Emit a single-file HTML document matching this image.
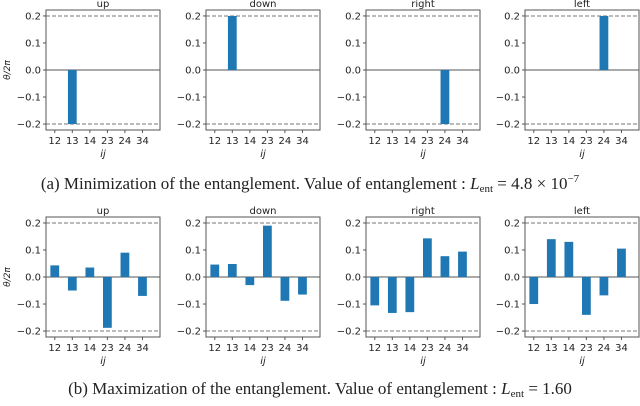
<!DOCTYPE html>
<html><head><meta charset="utf-8"><style>
body{margin:0;background:#fff;width:640px;height:401px;overflow:hidden}
svg text{font-family:"DejaVu Sans","Liberation Sans",sans-serif}
.cap{font-family:"Liberation Serif",serif;font-size:17px;fill:#222}
</style></head><body>
<svg id="fig" width="640" height="401" viewBox="0 0 640 401" xmlns="http://www.w3.org/2000/svg">
<text class="cap" x="310" y="189" text-anchor="middle">(a) Minimization of the entanglement. Value of entanglement : <tspan font-style="italic">L</tspan><tspan font-size="11" dy="3">ent</tspan><tspan dy="-3"> = 4.8 × 10</tspan><tspan font-size="11" dy="-7">−7</tspan></text>
<text class="cap" x="320" y="394" text-anchor="middle">(b) Maximization of the entanglement. Value of entanglement : <tspan font-style="italic">L</tspan><tspan font-size="11" dy="3">ent</tspan><tspan dy="-3"> = 1.60</tspan></text>
</svg>
<script>
const categories=["12","13","14","23","24","34"];
const titles=["up","down","right","left"];
const yTicks=[0.2,0.1,0.0,-0.1,-0.2];
const yTickLabels=["0.2","0.1","0.0","−0.1","−0.2"];
const minUp=[0,-0.2,0,0,0,0];
const minDown=[0,0.2,0,0,0,0];
const minRight=[0,0,0,0,-0.2,0];
const minLeft=[0,0,0,0,0.2,0];
const maxUp=[0.043,-0.05,0.035,-0.188,0.09,-0.07];
const maxDown=[0.046,0.048,-0.03,0.19,-0.088,-0.065];
const maxRight=[-0.105,-0.133,-0.13,0.143,0.077,0.094];
const maxLeft=[-0.1,0.14,0.13,-0.14,-0.068,0.105];
const rows=[[minUp,minDown,minRight,minLeft],[maxUp,maxDown,maxRight,maxLeft]];
const NS="http://www.w3.org/2000/svg";
const svg=document.getElementById('fig');
function mk(tag,attrs,parent){const e=document.createElementNS(NS,tag);for(const k in attrs)e.setAttribute(k,attrs[k]);(parent||svg).appendChild(e);return e;}
const lefts=[46,206,366,525], W=114;
const tops=[10,217];
rows.forEach((row,ri)=>{
  row.forEach((vals,pi)=>{
    const x0=lefts[pi], top=tops[ri], H=120;
    const g=mk('g',{});
    
    
    const ymin=-0.222,ymax=0.222,xmin=-0.5,xmax=6.0;
    const sy=v=>top+(ymax-v)/(ymax-ymin)*H;
    const sx=v=>x0+(v-xmin)/(xmax-xmin)*W;
    [0.2,-0.2].forEach(v=>{const l=mk('line',{x1:x0,x2:x0+W,y1:sy(v),y2:sy(v),stroke:'#777','stroke-dasharray':'4,2','stroke-width':1},g);
      
      });
    const z=mk('line',{x1:x0,x2:x0+W,y1:sy(0),y2:sy(0),stroke:'#555','stroke-width':1},g);
    
    
    vals.forEach((v,i)=>{ if(v===0)return;
      const b=mk('rect',{x:sx(i-0.25),width:sx(0.25)-sx(-0.25),y:Math.min(sy(v),sy(0)),height:Math.abs(sy(v)-sy(0)),fill:'#1f77b4'},g);
      
      });
    const f=mk('rect',{x:x0,y:top,width:W,height:H,fill:'none',stroke:'#555','stroke-width':1},g);
    
    
    const t=mk('text',{x:x0+W/2,y:top-3,'text-anchor':'middle','font-size':10,fill:'#222'},g);t.textContent=titles[pi];
    
    
    yTicks.forEach((v,k)=>{mk('line',{x1:x0-3,x2:x0,y1:sy(v),y2:sy(v),stroke:'#555'},g);
      const tl=mk('text',{x:x0-5,y:sy(v)+3.5,'text-anchor':'end','font-size':10,fill:'#222'},g);tl.textContent=yTickLabels[k];
      
      });
    categories.forEach((c,i)=>{mk('line',{x1:sx(i),x2:sx(i),y1:top+H,y2:top+H+3,stroke:'#555'},g);
      const tl=mk('text',{x:sx(i),y:top+H+14,'text-anchor':'middle','font-size':10,fill:'#222'},g);tl.textContent=c;
      
      });
    const xl=mk('text',{x:x0+W/2,y:top+H+27,'text-anchor':'middle','font-size':10,'font-style':'italic',fill:'#222'},g);xl.textContent='ij';
    
    
    if(pi===0){const yl=mk('text',{x:0,y:0,'text-anchor':'middle','font-size':9,'font-style':'italic',fill:'#222',transform:`translate(10,${top+H/2}) rotate(-90)`},g);yl.textContent='θ/2π';
      
      }
  });
});
</script>
</body></html>
